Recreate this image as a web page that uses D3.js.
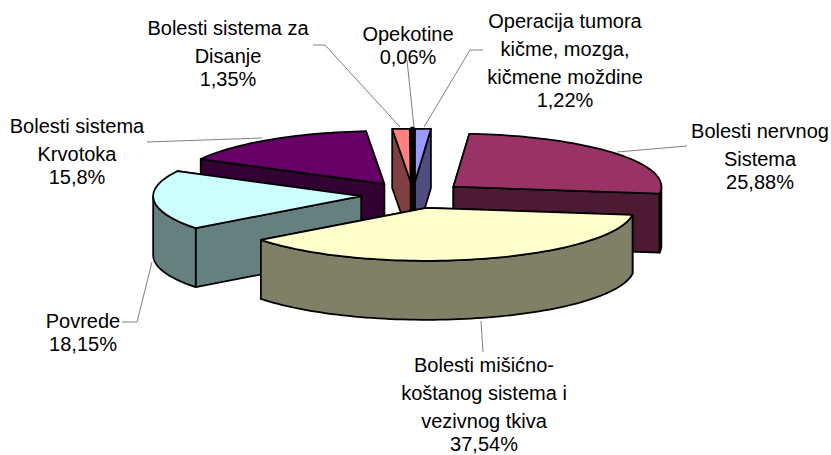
<!doctype html>
<html>
<head>
<meta charset="utf-8">
<script src="https://cdn.jsdelivr.net/npm/d3@7/dist/d3.min.js"></script>
<style>
  html,body{margin:0;padding:0;background:#fff;}
  text{font-family:"Liberation Sans",Arial,sans-serif;font-size:20px;fill:#000;text-anchor:middle;}
</style>
</head>
<body>
<svg id="chart"></svg>
<script>
var categories=["Operacija tumora kičme, mozga, kičmene moždine","Bolesti nervnog Sistema","Bolesti mišićno-koštanog sistema i vezivnog tkiva","Povrede","Bolesti sistema Krvotoka","Bolesti sistema za Disanje","Opekotine"];
var values=[1.22,25.88,37.54,18.15,15.8,1.35,0.06];
var labelLines=[["Operacija tumora","kičme, mozga,","kičmene moždine","1,22%"],["Bolesti nervnog","Sistema","25,88%"],["Bolesti mišićno-","koštanog sistema i","vezivnog tkiva","37,54%"],["Povrede","18,15%"],["Bolesti sistema","Krvotoka","15,8%"],["Bolesti sistema za","Disanje","1,35%"],["Opekotine","0,06%"]];
var topColors=["#9999ff","#993366","#ffffcc","#ccffff","#660066","#ff8080","#000000"];
var sideColors=["#4d4d80","#4d1a33","#808066","#668080","#330033","#804040","#000000"];
// back to front
var drawOrder=[0,5,6,4,1,3,2];
// label centre x, first baseline y
var labelPos=[[565,28],[760,138],[484,372],[83,328],[77,133],[228,35],[408,41]];
// leader polylines in pixels
var leaders=[[[424,127],[470,50],[483,50]],[[617,152],[687,146]],[[481,321],[483,352]],[[152,262],[137,322],[122,322]],[[262,138],[147,142]],[[400,127],[325,45],[313,45]],[[414,127],[407,60]]];

var width=831,height=455;
var cx=413,cy=195,rx=208,ry=53,depth=59,explode=0.25;
// name lines sit further apart than the percent line under them
var lineGap=28,valueGap=23;

var x=d3.scaleLinear().domain([-1,1]).range([cx-rx,cx+rx]);
var y=d3.scaleLinear().domain([-1,1]).range([cy-ry,cy+ry]);
var line=d3.line().x(d=>d[0]).y(d=>d[1]);

var svg=d3.select("#chart").attr("width",width).attr("height",height).style("display","block");
var pie=d3.pie().sort(null).value(d=>d)(values);

function pt(a,r,mid,dz){
  var ox=explode*Math.sin(mid),oy=-explode*Math.cos(mid);
  return [x(ox+r*Math.sin(a)),y(oy-r*Math.cos(a))+(dz||0)];
}
function arcPts(a0,a1,mid,dz){
  var n=Math.max(2,Math.ceil((a1-a0)/0.03));
  return d3.range(n+1).map(i=>pt(a0+(a1-a0)*i/n,1,mid,dz));
}

svg.append("g").selectAll("path").data(leaders).enter().append("path")
  .attr("d",d=>line(d)).attr("fill","none").attr("stroke","#808080").attr("stroke-width",1);

var g=svg.append("g").attr("stroke","#000").attr("stroke-linejoin","round");

drawOrder.forEach(function(i){
  var s=pie[i],mid=(s.startAngle+s.endAngle)/2;
  var sw=values[i]<0.5?4:1.75;
  var walls=[s.startAngle,s.endAngle].map(a=>({a:a,my:pt(a,1,mid)[1]})).sort((p,q)=>p.my-q.my);
  var apex=pt(0,0,mid),apexB=pt(0,0,mid,depth);
  walls.forEach(function(w){
    var c=pt(w.a,1,mid),cB=pt(w.a,1,mid,depth);
    g.append("path").attr("d",line([apex,c,cB,apexB])+"Z").attr("fill",sideColors[i]).attr("stroke-width",sw);
  });
  // outer rim, only the part turned towards the viewer
  var r0=Math.max(s.startAngle,Math.PI/2),r1=Math.min(s.endAngle,Math.PI*1.5);
  if(r1>r0){
    g.append("path").attr("d",line(arcPts(r0,r1,mid).concat(arcPts(r0,r1,mid,depth).reverse()))+"Z").attr("fill",sideColors[i]).attr("stroke-width",sw);
  }
  g.append("path").attr("d",line([apex].concat(arcPts(s.startAngle,s.endAngle,mid)))+"Z").attr("fill",topColors[i]).attr("stroke-width",sw);
});

var labels=svg.append("g").selectAll("text").data(labelLines).enter().append("text")
  .attr("transform",(d,i)=>"translate("+labelPos[i][0]+","+labelPos[i][1]+")");
labels.selectAll("tspan").data(d=>d).enter().append("tspan")
  .attr("x",0)
  .attr("y",(d,i,n)=>i==n.length-1?(i-1)*lineGap+valueGap:i*lineGap)
  .text(d=>d);
</script>
</body>
</html>
